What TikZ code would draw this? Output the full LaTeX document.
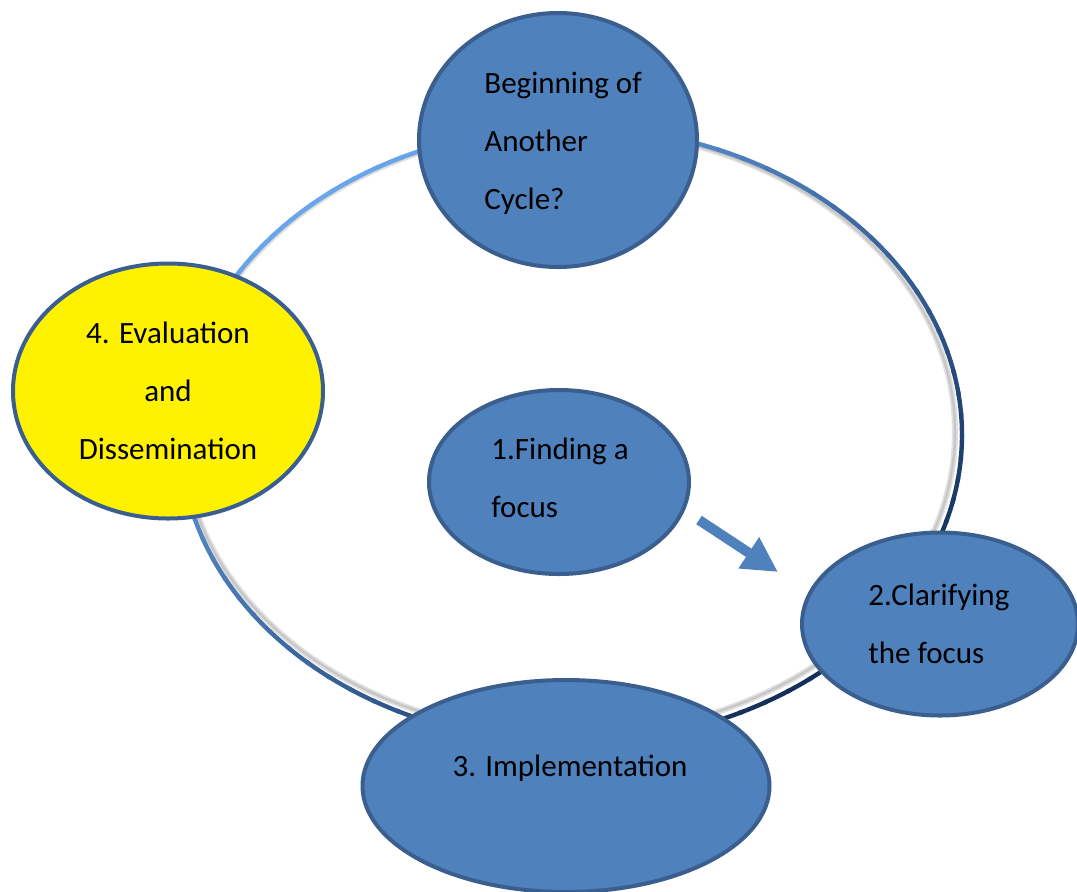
\documentclass[tikz,border=0pt]{standalone}
\usepackage{fontspec}
\setmainfont{Carlito}
\usetikzlibrary{arrows.meta,shapes.geometric}

\definecolor{stagefill}{HTML}{4F81BD}
\definecolor{stageline}{HTML}{3A5F8E}
\definecolor{ringlight}{HTML}{6AA6EC}
\definecolor{ringdark}{HTML}{14305A}

\tikzset{
  stage/.style={ellipse,draw=stageline,line width=2pt,fill=stagefill,inner sep=0pt},
  stagetext/.style={align=left,inner sep=0pt,font=\fontsize{15.5}{29}\selectfont}
}

\begin{document}
\begin{tikzpicture}[x=0.5pt,y=-0.5pt]
        \useasboundingbox (0,0) rectangle (1077,891);

        \coordinate (O) at (571,435);
        \coordinate (S) at (569,432);

        % the ring, with a faint shadow inside
        \draw[black!12,line width=3pt] (S) ellipse[x radius=386,y radius=303];
        \draw[black!22,line width=1.2pt] (S) ellipse[x radius=386,y radius=303];
        \foreach \a in {0,4,...,356} {
          \pgfmathtruncatemacro\mix{50+50*cos(\a-225)}
          \draw[ringlight!\mix!ringdark,line width=2.2pt,line cap=round]
            (O) ++(\a:391 and 308) arc[start angle=\a,delta angle=4.5,x radius=391,y radius=308];
        }

        \node[stage,minimum width=139pt,minimum height=127pt] (cycle) at (558,140) {};
        \node[stage,fill=yellow,minimum width=155pt,minimum height=127.5pt,
              align=center,font=\fontsize{15.5}{29}\selectfont] (evaluate) at (168,391)
              {4. Evaluation\\and\\Dissemination};
        \node[stage,minimum width=130pt,minimum height=92pt] (finding) at (559,482) {};
        \node[stage,minimum width=138pt,minimum height=91.5pt] (clarify) at (940,624) {};
        \node[stage,minimum width=203.5pt,minimum height=106pt] (implement) at (566,786) {};

        \node[stagetext,anchor=west] (cycle text) at (484,143) {Beginning of\\Another\\Cycle?};
        \node[stagetext,anchor=west] (finding text) at (491,478) {1.Finding a\\focus};
        \node[stagetext,anchor=west] (clarify text) at (868,624) {2.Clarifying\\the focus};
        \node[stagetext] (implement text) at (570,768) {3. Implementation};

        %the arrow from 1 towards 2
        \coordinate (arrow start) at (699,520);
        \coordinate (arrow end) at (778,572);
        \draw[stagefill,line width=5pt,-{Triangle[length=17.5pt,width=17.5pt]}]
          (arrow start) -- (arrow end);

\end{tikzpicture}
\end{document}
